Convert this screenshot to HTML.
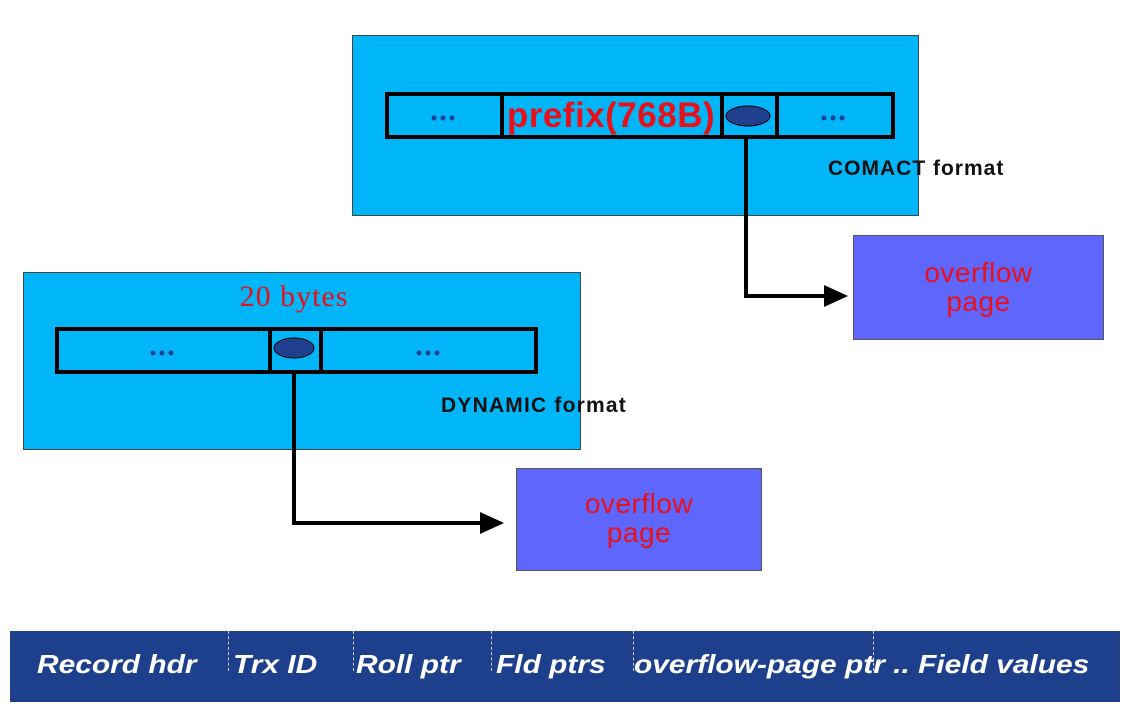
<!DOCTYPE html>
<html><head><style>
body{margin:0;width:1123px;height:704px;background:#fff;position:relative;overflow:hidden;font-family:"Liberation Sans",sans-serif}
.a{position:absolute;box-sizing:border-box}
.ov{background:#5f66fb;border:1px solid #555;color:#e8101a;font-size:28px;letter-spacing:0.5px;text-align:center;line-height:29px}
.bar{position:absolute;left:10px;top:631px;width:1110px;height:71px;background:#1e3f8c}
.bt{position:absolute;top:649px;color:#fff;font-weight:bold;font-style:italic;font-size:26px;transform:scaleX(1.15);transform-origin:left}
.dl{position:absolute;top:631px;height:40px;border-left:1px dashed #ccd}
</style></head><body>
<div class="a" style="left:352px;top:35px;width:567px;height:181px;background:#00b6f8;border:1px solid #444"></div>
<div class="a" style="left:23px;top:272px;width:558px;height:178px;background:#00b6f8;border:1px solid #444"></div>
<div class="a ov" style="left:853px;top:235px;width:251px;height:105px;padding-top:22px">overflow<br>page</div>
<div class="a ov" style="left:516px;top:468px;width:246px;height:103px;padding-top:20px">overflow<br>page</div>
<svg class="a" style="left:0;top:0" width="1123" height="704">
<g fill="none" stroke="#000" stroke-width="4">
<rect x="387" y="94" width="506" height="43"/>
<line x1="502" y1="94" x2="502" y2="137"/><line x1="722" y1="94" x2="722" y2="137"/><line x1="777" y1="94" x2="777" y2="137"/>
<rect x="57" y="329" width="479" height="43"/>
<line x1="270" y1="329" x2="270" y2="372"/><line x1="321" y1="329" x2="321" y2="372"/>
<polyline points="746,137 746,296 826,296"/>
<polyline points="294,372 294,523 482,523"/>
</g>
<polygon points="824,285 848,296 824,307" fill="#000"/>
<polygon points="480,512 504,523 480,534" fill="#000"/>
<ellipse cx="748" cy="116" rx="22" ry="10" fill="#1f3f8f" stroke="#000"/>
<ellipse cx="294" cy="348" rx="20" ry="10" fill="#1f3f8f" stroke="#000"/>
<g fill="#1f3f8f">
<circle cx="434" cy="118" r="2.5"/><circle cx="443" cy="118" r="2.5"/><circle cx="452" cy="118" r="2.5"/>
<circle cx="824" cy="118" r="2.5"/><circle cx="833" cy="118" r="2.5"/><circle cx="842" cy="118" r="2.5"/>
<circle cx="153" cy="353" r="2.5"/><circle cx="162" cy="353" r="2.5"/><circle cx="171" cy="353" r="2.5"/>
<circle cx="419" cy="353" r="2.5"/><circle cx="428" cy="353" r="2.5"/><circle cx="437" cy="353" r="2.5"/>
</g>
<text x="611" y="127" text-anchor="middle" fill="#e8101a" font-size="35" font-weight="bold" font-family="Liberation Sans" letter-spacing="0.5">prefix(768B)</text>
<text x="294" y="306" text-anchor="middle" fill="#e8101a" font-size="30" letter-spacing="1" font-family="Liberation Serif">20 bytes</text>
<text x="828" y="175" font-weight="bold" font-size="21" letter-spacing="1" fill="#111" font-family="Liberation Sans">COMACT format</text>
<text x="441" y="412" font-weight="bold" font-size="21" letter-spacing="1.2" fill="#111" font-family="Liberation Sans">DYNAMIC format</text>
</svg>
<div class="bar"></div>
<div class="dl" style="left:228px"></div><div class="dl" style="left:353px"></div><div class="dl" style="left:491px"></div><div class="dl" style="left:633px"></div><div class="dl" style="left:873px"></div>
<div class="bt" style="left:37px">Record hdr</div>
<div class="bt" style="left:233px">Trx ID</div>
<div class="bt" style="left:356px">Roll ptr</div>
<div class="bt" style="left:496px">Fld ptrs</div>
<div class="bt" style="left:634px">overflow-page ptr .. Field values</div>
</body></html>
